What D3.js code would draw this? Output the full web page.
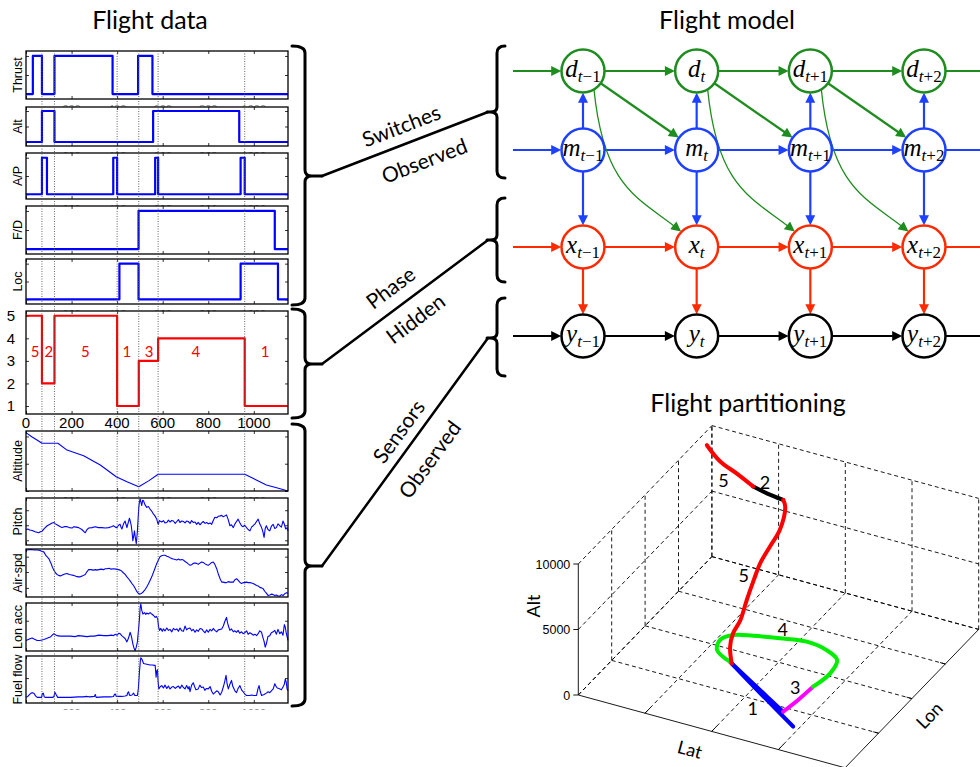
<!DOCTYPE html>
<html>
<head>
<meta charset="utf-8">
<script src="https://cdn.jsdelivr.net/npm/d3@7"></script>
<style>
  html, body { margin: 0; padding: 0; background: #fff; }
  svg { display: block; }
</style>
</head>
<body>
<svg id="fig" width="980" height="767"></svg>
<script>
// ---------------- data ----------------
const timeTicks = [0, 200, 400, 600, 800, 1000];
const modeChanges = [70, 125, 400, 495, 580, 960];

// switch states: [time, level]
const thrustSwitch = [[0,0],[30,1],[70,0],[125,1],[380,0],[492,1],[555,0],[1150,0]];
const altSwitch    = [[0,0],[70,1],[125,0],[558,1],[936,0],[1150,0]];
const apSwitch     = [[0,0],[70,1],[92,0],[383,1],[400,0],[567,1],[580,0],[942,1],[960,0],[1150,0]];
const fdSwitch     = [[0,0],[494,1],[1092,0],[1150,0]];
const locSwitch    = [[0,0],[410,1],[494,0],[942,1],[1106,0],[1150,0]];

// flight phase: [time, phase]
const phaseSeq = [[0,5],[70,2],[125,5],[400,1],[495,3],[580,4],[960,1],[1150,1]];
const phaseLabelT    = [40, 100, 260, 443, 540, 745, 1050];
const phaseLabelText = ["5","2","5","1","3","4","1"];
const phaseTicks = [1, 2, 3, 4, 5];

// sensors
const altitudeFt = [[0,10700],[25,9950],[50,9300],[70,8745],[140,8745],[180,7500],[253,6470],[326,4770],[396,2620],[443,1700],[495,790],[540,1900],[580,3060],[960,3060],[996,2330],[1055,1100],[1100,600],[1150,0]];
const pitch = [[0,33],[8,34],[16,32],[27,31],[40,28],[56,26],[63,28],[70,29],[80,35],[93,41],[105,44],[115,47],[122,48],[129,45],[136,43],[147,40],[158,37],[168,39],[180,39],[190,37],[202,36],[210,39],[220,38],[231,37],[245,33],[260,26],[268,33],[275,36],[290,37],[304,39],[318,37],[333,37],[348,36],[362,37],[375,39],[384,41],[392,38],[399,37],[406,42],[413,44],[417,38],[421,34],[428,45],[435,51],[440,42],[443,37],[449,48],[454,57],[458,50],[462,41],[466,25],[469,9],[473,20],[476,30],[480,15],[484,3],[487,18],[489,30],[492,55],[495,80],[498,92],[501,98],[505,90],[508,84],[512,95],[516,94],[522,86],[530,80],[537,82],[545,76],[552,72],[559,66],[566,62],[574,55],[578,47],[581,44],[585,52],[588,51],[596,49],[603,52],[610,47],[618,48],[625,53],[632,49],[640,52],[647,51],[655,46],[662,50],[669,54],[676,48],[684,51],[691,50],[698,47],[705,51],[712,50],[720,46],[727,52],[734,48],[742,49],[749,44],[756,48],[764,43],[771,47],[778,50],[786,46],[793,48],[800,45],[808,47],[815,44],[822,52],[829,59],[837,58],[844,61],[852,62],[859,63],[866,60],[873,62],[880,64],[887,55],[895,41],[902,43],[910,37],[917,45],[924,50],[931,55],[938,48],[946,41],[953,39],[960,42],[968,37],[975,33],[983,30],[990,38],[997,41],[1005,45],[1012,50],[1019,55],[1026,45],[1034,37],[1040,28],[1045,16],[1050,35],[1055,41],[1062,33],[1070,30],[1077,40],[1085,44],[1092,35],[1099,37],[1106,45],[1114,41],[1121,38],[1128,51],[1134,44],[1140,34],[1146,37],[1150,30]];
const airSpeed = [[0,96],[5,98],[20,99],[35,98],[49,98],[62,97],[70,95],[78,94],[88,86],[100,80],[110,70],[116,62],[122,56],[130,50],[136,47],[143,45],[151,44],[160,46],[170,48],[180,49],[190,47],[200,46],[209,45],[220,43],[230,42],[238,42],[248,44],[260,47],[268,53],[275,57],[285,57],[295,56],[305,57],[311,56],[320,57],[330,58],[340,57],[348,59],[355,59],[365,60],[374,58],[384,59],[395,58],[405,57],[413,56],[420,54],[428,50],[435,47],[443,42],[450,38],[458,33],[465,28],[472,24],[480,17],[487,11],[494,7],[500,6],[508,8],[515,11],[522,15],[530,21],[537,27],[545,35],[552,42],[560,52],[567,61],[574,70],[580,76],[588,84],[595,86],[603,87],[610,87],[618,85],[625,84],[632,82],[640,80],[647,79],[655,78],[662,77],[670,79],[676,77],[684,78],[691,77],[698,74],[705,72],[712,69],[720,66],[727,67],[734,70],[742,71],[749,70],[756,68],[764,71],[771,73],[778,72],[786,69],[793,67],[800,66],[808,69],[815,72],[822,73],[829,68],[837,59],[844,48],[852,38],[859,31],[866,31],[873,30],[880,30],[887,32],[895,31],[902,31],[910,31],[917,36],[924,38],[931,35],[938,31],[946,28],[953,30],[960,30],[968,31],[975,30],[983,30],[990,29],[997,28],[1005,26],[1012,24],[1019,23],[1026,20],[1034,19],[1041,17],[1048,12],[1055,8],[1063,3],[1070,4],[1077,6],[1085,5],[1092,3],[1099,4],[1106,2],[1114,2],[1121,5],[1128,3],[1136,7],[1143,9],[1150,8]];
const lonAcc = [[0,22],[10,24],[20,26],[27,27],[35,25],[49,22],[60,22],[70,23],[78,24],[90,26],[100,28],[107,29],[115,33],[122,36],[129,34],[136,32],[150,31],[170,31],[195,31],[215,30],[230,32],[250,31],[268,30],[285,31],[300,31],[320,33],[341,32],[360,32],[375,33],[384,32],[392,35],[400,33],[408,37],[413,36],[420,32],[428,29],[435,26],[443,19],[450,27],[457,39],[463,30],[469,15],[474,6],[479,1],[484,8],[489,19],[493,40],[498,67],[501,90],[504,98],[508,85],[513,77],[520,80],[526,76],[530,79],[537,77],[545,80],[552,77],[560,74],[567,70],[572,72],[578,67],[582,50],[586,43],[592,47],[598,41],[603,46],[610,42],[618,48],[625,43],[632,45],[640,40],[647,47],[655,44],[662,46],[669,41],[676,48],[684,42],[691,41],[698,52],[705,44],[712,47],[720,48],[727,42],[734,45],[742,39],[749,44],[756,41],[764,47],[771,46],[778,42],[786,38],[793,44],[800,39],[808,45],[815,42],[822,47],[829,43],[837,40],[844,44],[852,45],[859,46],[866,52],[873,62],[880,70],[885,58],[890,50],[895,43],[902,46],[910,40],[917,42],[924,39],[931,43],[938,37],[946,40],[953,36],[960,38],[968,42],[975,35],[983,38],[990,36],[997,33],[1005,35],[1012,32],[1019,36],[1026,42],[1034,39],[1040,28],[1045,20],[1050,8],[1055,15],[1062,30],[1070,32],[1077,38],[1085,40],[1092,43],[1099,35],[1106,45],[1114,36],[1121,40],[1128,33],[1134,55],[1138,50],[1142,38],[1146,30],[1150,22]];
const fuelFlow = [[0,12],[8,14],[15,18],[22,21],[30,22],[36,20],[42,15],[49,12],[60,12],[68,12],[72,20],[76,21],[80,13],[85,12],[100,12],[115,12],[122,13],[127,23],[132,18],[139,12],[160,12],[195,12],[230,13],[250,13],[268,14],[280,13],[300,14],[304,18],[308,12],[340,13],[370,13],[384,14],[388,18],[392,19],[396,14],[402,14],[420,14],[435,15],[443,16],[446,21],[450,24],[454,17],[457,16],[465,17],[472,21],[478,16],[489,16],[493,30],[498,66],[502,90],[504,96],[509,93],[516,84],[525,83],[535,82],[545,81],[555,81],[563,80],[567,80],[570,62],[571,55],[574,68],[577,71],[580,45],[583,30],[590,35],[596,37],[603,32],[610,38],[618,31],[625,36],[632,30],[640,34],[647,35],[655,31],[662,34],[669,36],[676,31],[684,38],[691,33],[698,30],[705,37],[712,30],[716,35],[720,24],[727,38],[734,43],[740,35],[746,28],[756,30],[763,38],[770,33],[778,34],[785,27],[792,31],[800,30],[808,35],[815,25],[822,19],[829,22],[837,26],[844,24],[852,17],[859,23],[866,34],[872,45],[878,59],[883,40],[888,30],[895,40],[902,48],[908,35],[917,26],[924,22],[931,31],[939,37],[946,28],[953,24],[961,19],[968,16],[975,16],[983,16],[990,17],[1000,16],[1012,16],[1018,30],[1023,37],[1028,25],[1034,16],[1045,18],[1055,21],[1063,24],[1070,22],[1077,26],[1085,30],[1092,41],[1097,36],[1103,32],[1110,31],[1114,30],[1121,28],[1128,34],[1134,40],[1138,51],[1142,45],[1146,30],[1150,26]];

// graphical model
const timeSlices = ["t−1", "t", "t+1", "t+2"];
const modelVars  = ["d", "m", "x", "y"];

// flight track (lat / lon in grid units, altitude in ft); phase of the segment ending at each point
const trackLat   = [0.27,0.51,0.75,1.00,1.24,1.51,1.59,1.70,1.67,1.64,1.65,1.66,1.68,1.64,1.67,1.85,2.28,2.74,2.95,3.15,3.20,3.13,2.89,2.56,2.20,1.86,1.61,1.51,1.59,1.88,2.36,2.91];
const trackLon   = [3.31,3.23,3.24,3.24,3.17,3.12,3.02,2.64,2.40,2.17,1.96,1.73,1.50,1.36,1.21,0.90,0.79,0.66,0.69,0.74,1.15,1.50,1.66,1.73,1.64,1.53,1.42,1.23,0.98,0.79,0.73,0.62];
const trackAlt   = [10700,10000,9400,8745,8745,8745,8600,8000,7300,6600,5900,5000,4100,3400,2800,2600,1700,790,1900,3060,3060,3060,3060,3060,3060,3060,3060,3060,3060,3060,1500,0];
const trackPhase = [5,5,5,5,2,2,5,5,5,5,5,5,5,5,5,5,1,1,3,3,4,4,4,4,4,4,4,4,4,4,1,1];
const altTicks3d = [0, 5000, 10000];
const gridSteps3d = [0, 1, 2, 3, 4];

// ---------------- drawing ----------------
const svg = d3.select("#fig");
const SANS = "Lato, 'Open Sans', sans-serif";
const AXF  = "'Liberation Sans', Arial, sans-serif";
const SERIF = "'Liberation Serif', 'DejaVu Serif', serif";
const BLUE = "#0000ff", RED = "#ff0000";

svg.append("rect").attr("width", 980).attr("height", 767).attr("fill", "#fff");

const titles = [["Flight data", 150, 29], ["Flight model", 727, 29], ["Flight partitioning", 748, 412]];
svg.selectAll("text.title").data(titles).join("text")
  .attr("class", "title")
  .attr("x", d => d[1]).attr("y", d => d[2])
  .attr("text-anchor", "middle")
  .attr("font-family", SANS).attr("font-size", 25)
  .text(d => d[0]);

// ---- left column: time-series panels ----
const x = d3.scaleLinear().domain([0, 1150]).range([26, 288]);
const [X0, X1] = x.range();
const stepLine = d3.curveStepAfter;

const panels = [
  { label: "Thrust",   top: 51,  bottom: 99,  domain: [-0.13, 1.13], ticks: [0, 0.5, 1], data: thrustSwitch, curve: stepLine, color: BLUE, w: 2.2 },
  { label: "Alt",      top: 107, bottom: 146, domain: [-0.13, 1.13], ticks: [0, 0.5, 1], data: altSwitch,    curve: stepLine, color: BLUE, w: 2.2 },
  { label: "A/P",      top: 153, bottom: 199, domain: [-0.13, 1.13], ticks: [0, 0.5, 1], data: apSwitch,     curve: stepLine, color: BLUE, w: 2.2 },
  { label: "F/D",      top: 206, bottom: 254, domain: [-0.13, 1.13], ticks: [0, 0.5, 1], data: fdSwitch,     curve: stepLine, color: BLUE, w: 2.2 },
  { label: "Loc",      top: 259, bottom: 304, domain: [-0.13, 1.13], ticks: [0, 0.5, 1], data: locSwitch,    curve: stepLine, color: BLUE, w: 2.2 },
  { label: null,       top: 311, bottom: 414, domain: [0.646, 5.21], ticks: phaseTicks,  data: phaseSeq,     curve: stepLine, color: RED,  w: 2.2, phase: true },
  { label: "Altitude", top: 431, bottom: 491, domain: [0, 11000],    ticks: [0, 5000, 10000], data: altitudeFt, curve: d3.curveLinear, color: BLUE, w: 1.1 },
  { label: "Pitch",    top: 498, bottom: 545, domain: [0, 100],      ticks: [10, 42, 74], data: pitch,    curve: d3.curveLinear, color: BLUE, w: 1.1 },
  { label: "Air-spd",  top: 549, bottom: 597, domain: [0, 100],      ticks: [19, 52, 84], data: airSpeed, curve: d3.curveLinear, color: BLUE, w: 1.1 },
  { label: "Lon acc",  top: 603, bottom: 651, domain: [0, 100],      ticks: [63],         data: lonAcc,   curve: d3.curveLinear, color: BLUE, w: 1.1 },
  { label: "Fuel flow",top: 656, bottom: 703, domain: [0, 100],      ticks: [53],         data: fuelFlow, curve: d3.curveLinear, color: BLUE, w: 1.1, last: true }
];

const defs = svg.append("defs");
defs.append("clipPath").attr("id", "bottomCut").append("rect")
  .attr("x", 0).attr("y", 0).attr("width", 300).attr("height", 710);

panels.forEach(p => {
  const y = d3.scaleLinear().domain(p.domain).range([p.bottom, p.top]);
  const g = svg.append("g");
  g.append("rect").attr("x", X0).attr("y", p.top).attr("width", X1 - X0).attr("height", p.bottom - p.top)
    .attr("fill", "#fff");

  const addAxis = (axis, tx, ty) => g.append("g")
    .attr("transform", `translate(${tx},${ty})`)
    .call(axis)
    .call(s => s.select(".domain").remove())
    .call(s => s.selectAll("line").attr("stroke", "#000").attr("stroke-width", 0.8));
  addAxis(d3.axisBottom(x).tickValues(timeTicks).tickSize(-3).tickFormat(""), 0, p.bottom);
  addAxis(d3.axisTop(x).tickValues(timeTicks).tickSize(-3).tickFormat(""), 0, p.top);
  addAxis(d3.axisLeft(y).tickValues(p.ticks).tickSize(-3).tickFormat(""), X0, 0);
  addAxis(d3.axisRight(y).tickValues(p.ticks).tickSize(-3).tickFormat(""), X1, 0);

  if (p.phase) {
    // full tick labels on the phase panel
    g.selectAll("text.xl").data(timeTicks).join("text").attr("class", "xl")
      .attr("x", d => x(d)).attr("y", p.bottom + 14)
      .attr("text-anchor", "middle").attr("font-family", AXF).attr("font-size", 15).text(d => d);
    g.selectAll("text.yl").data(p.ticks).join("text").attr("class", "yl")
      .attr("x", 15).attr("y", d => y(d)).attr("dy", "0.36em")
      .attr("text-anchor", "end").attr("font-family", AXF).attr("font-size", 15).text(d => d);
    g.selectAll("text.ph").data(phaseLabelT).join("text").attr("class", "ph")
      .attr("x", d => x(d)).attr("y", y(3.4)).attr("dy", "0.36em")
      .attr("text-anchor", "middle").attr("font-family", SANS).attr("font-size", 15)
      .attr("fill", RED).text((d, i) => phaseLabelText[i]);
  } else {
    // tick labels mostly hidden under the following panel
    g.append("g").attr("clip-path", p.last ? "url(#bottomCut)" : null)
      .selectAll("text").data(timeTicks.slice(1)).join("text")
      .attr("x", d => x(d)).attr("y", p.bottom + 14)
      .attr("text-anchor", "middle").attr("font-family", AXF).attr("font-size", 11)
      .attr("fill", "#888").text(d => d);
  }

  g.append("path").datum(p.data)
    .attr("d", d3.line().x(d => x(d[0])).y(d => y(d[1])).curve(p.curve))
    .attr("fill", "none").attr("stroke", p.color).attr("stroke-width", p.w)
    .attr("stroke-linejoin", "round");

  g.append("rect").attr("x", X0).attr("y", p.top).attr("width", X1 - X0).attr("height", p.bottom - p.top)
    .attr("fill", "none").attr("stroke", "#000").attr("stroke-width", 1.3);

  if (p.label) {
    g.append("text")
      .attr("transform", `translate(18,${(p.top + p.bottom) / 2}) rotate(-90)`)
      .attr("text-anchor", "middle").attr("dominant-baseline", "central")
      .attr("font-family", AXF).attr("font-size", p.top > 420 ? 12.5 : 12.5).text(p.label);
  }
});

// mode-change markers across all panels
svg.append("g").selectAll("line").data(modeChanges).join("line")
  .attr("x1", d => x(d)).attr("x2", d => x(d))
  .attr("y1", 51).attr("y2", 703)
  .attr("stroke", "#555").attr("stroke-width", 0.9).attr("stroke-dasharray", "1,1.5");

// ---- braces and connectors ----
const braces = [
  { l: [46, 305, 176], r: [46, 178, 112], words: ["Switches", "Observed"], angle: -21, pos: [[401, 125], [424, 160]] },
  { l: [309, 418, 364], r: [198, 282, 240], words: ["Phase", "Hidden"],    angle: -37, pos: [[390, 287], [415, 318]] },
  { l: [424, 706, 566], r: [298, 376, 338], words: ["Sensors", "Observed"], angle: -54, pos: [[398, 431], [429, 459]] }
];
const bg = svg.append("g").attr("fill", "none").attr("stroke", "#000").attr("stroke-linecap", "round");
braces.forEach(b => {
  const [a0, a1, am] = b.l;
  bg.append("path").attr("stroke-width", 3).attr("d",
    `M292,${a0} Q305,${a0} 305,${a0 + 7} L305,${am - 6} Q305,${am} 312,${am} L322,${am}` +
    ` M312,${am} Q305,${am} 305,${am + 6} L305,${a1 - 7} Q305,${a1} 292,${a1}`);
  const [c0, c1, cm] = b.r;
  bg.append("path").attr("stroke-width", 3).attr("d",
    `M505,${c0} Q497,${c0} 497,${c0 + 7} L497,${cm - 5} Q497,${cm} 490,${cm} L487,${cm}` +
    ` M490,${cm} Q497,${cm} 497,${cm + 5} L497,${c1 - 7} Q497,${c1} 505,${c1}`);
  bg.append("line").attr("x1", 322).attr("y1", am).attr("x2", 488).attr("y2", cm).attr("stroke-width", 2.5);
  b.words.forEach((w, i) => {
    svg.append("text")
      .attr("transform", `translate(${b.pos[i][0]},${b.pos[i][1]}) rotate(${b.angle})`)
      .attr("text-anchor", "middle").attr("dominant-baseline", "central")
      .attr("font-family", SANS).attr("font-size", 21).text(w);
  });
});

// ---- graphical model ----
const gx = d3.scalePoint().domain(timeSlices).range([583, 924]);
const gy = d3.scaleOrdinal().domain(modelVars).range([71, 150, 247, 336]);
const varColor = d3.scaleOrdinal().domain(modelVars).range(["#1e8c1e", "#1e40ff", "#ff2a00", "#000000"]);
const R = 21.5;

modelVars.forEach(v => {
  defs.append("marker").attr("id", "arrow-" + v)
    .attr("viewBox", "0 0 10 10").attr("refX", 7.3).attr("refY", 5)
    .attr("markerWidth", 11).attr("markerHeight", 10)
    .attr("markerUnits", "userSpaceOnUse").attr("orient", "auto")
    .append("path").attr("d", "M0,0L10,5L0,10z").attr("fill", varColor(v));
});

const eg = svg.append("g").attr("fill", "none");
function arrow(x1, y1, x2, y2, v, w, head = true) {
  const dx = x2 - x1, dy = y2 - y1, L = Math.hypot(dx, dy);
  const s = head ? 3 / L : 0;
  eg.append("line").attr("x1", x1).attr("y1", y1)
    .attr("x2", x2 - dx * s).attr("y2", y2 - dy * s)
    .attr("stroke", varColor(v)).attr("stroke-width", w)
    .attr("marker-end", head ? `url(#arrow-${v})` : null);
}

// chains along time
modelVars.forEach(v => {
  const yy = gy(v);
  arrow(513, yy, gx(timeSlices[0]) - R, yy, v, 2.2);
  for (let i = 0; i < timeSlices.length - 1; i++) {
    arrow(gx(timeSlices[i]) + R, yy, gx(timeSlices[i + 1]) - R, yy, v, 2.2);
  }
  arrow(gx(timeSlices[timeSlices.length - 1]) + R, yy, 980, yy, v, 2.2, false);
});

// within-slice dependencies
timeSlices.forEach(s => {
  const cx = gx(s);
  arrow(cx, gy("m") - R, cx, gy("d") + R, "m", 2.2);
  arrow(cx, gy("m") + R, cx, gy("x") - R, "m", 2.2);
  arrow(cx, gy("x") + R, cx, gy("y") - R, "x", 2.2);
});

// d_{t} -> m_{t+1} and d_{t} -> x_{t+1}
for (let i = 0; i < timeSlices.length - 1; i++) {
  const ax = gx(timeSlices[i]), ay = gy("d");
  const bx = gx(timeSlices[i + 1]), by = gy("m");
  const dx = bx - ax, dy = by - ay, L = Math.hypot(dx, dy);
  const ux = dx / L, uy = dy / L;
  arrow(ax + ux * R, ay + uy * R, bx - ux * R, by - uy * R, "d", 2.2);

  const sx = ax + 11, sy = ay + 18.5;
  const tx = gx(timeSlices[i + 1]), ty = gy("x");
  const ex = tx - R * 0.72, ey = ty - R * 0.70;
  const path = d3.path();
  path.moveTo(sx, sy);
  path.bezierCurveTo(sx + 10, sy + 100, ex - 42, ey - 34, ex - 2.2, ey - 2.1);
  eg.append("path").attr("d", path.toString())
    .attr("stroke", varColor("d")).attr("stroke-width", 1.3)
    .attr("marker-end", "url(#arrow-d)");
}

// nodes
const ng = svg.append("g");
modelVars.forEach(v => {
  timeSlices.forEach(s => {
    const cx = gx(s), cy = gy(v);
    ng.append("circle").attr("cx", cx).attr("cy", cy).attr("r", R)
      .attr("fill", "#fff").attr("stroke", varColor(v)).attr("stroke-width", 2.5);
    const t = ng.append("text").attr("x", cx).attr("y", cy + 6)
      .attr("text-anchor", "middle").attr("font-family", SERIF).attr("font-size", 25).attr("fill", "#000");
    t.append("tspan").attr("font-style", "italic").text(v);
    const sub = t.append("tspan").attr("dy", 5).attr("font-size", 17);
    sub.append("tspan").attr("font-style", "italic").text(s.slice(0, 1));
    if (s.length > 1) sub.append("tspan").text(s.slice(1));
  });
});

// ---- 3-D flight partitioning ----
const O3 = [578.3, 695];
const latX = d3.scaleLinear().domain([0, 4]).range([0, 266.8]);
const latY = d3.scaleLinear().domain([0, 4]).range([0, 72.8]);
const lonX = d3.scaleLinear().domain([0, 4]).range([0, 133.6]);
const lonY = d3.scaleLinear().domain([0, 4]).range([0, -138.4]);
const altY = d3.scaleLinear().domain([0, 10000]).range([0, -131]);
const P = (la, lo, al) => [O3[0] + latX(la) + lonX(lo), O3[1] + latY(la) + lonY(lo) + altY(al)];

const g3 = svg.append("g");
const grid = g3.append("g").attr("stroke", "#000").attr("stroke-width", 0.9).attr("fill", "none");
function seg(a, b, dashed) {
  grid.append("line").attr("x1", a[0]).attr("y1", a[1]).attr("x2", b[0]).attr("y2", b[1])
    .attr("stroke-dasharray", dashed ? "4,3" : null);
}
// floor
gridSteps3d.forEach(k => {
  seg(P(k, 0, 0), P(k, 4, 0), k !== 4);
  seg(P(0, k, 0), P(4, k, 0), k !== 0);
});
// left wall (lat = 0)
gridSteps3d.forEach(k => seg(P(0, k, 0), P(0, k, 10000), k !== 0));
altTicks3d.forEach(a => seg(P(0, 0, a), P(0, 4, a), true));
// back wall (lon = 4)
gridSteps3d.forEach(k => seg(P(k, 4, 0), P(k, 4, 10000), true));
altTicks3d.forEach(a => seg(P(0, 4, a), P(4, 4, a), true));

// axis ticks
[1, 2, 3].forEach(k => {
  seg(P(k, 0, 0), P(k, 0.16, 0), false);
  seg(P(4, k, 0), P(3.92, k, 0), false);
});
altTicks3d.forEach(a => {
  const p = P(0, 0, a);
  seg(p, [p[0] - 5, p[1]], false);
});
g3.selectAll("text.alt").data(altTicks3d).join("text").attr("class", "alt")
  .attr("x", d => P(0, 0, d)[0] - 8).attr("y", d => P(0, 0, d)[1]).attr("dy", "0.36em")
  .attr("text-anchor", "end").attr("font-family", AXF).attr("font-size", 12.5).text(d => d);

const axisTitles = [["Alt", 533, 606, -90], ["Lat", 690, 749, 15.3], ["Lon", 929, 715, -46]];
g3.selectAll("text.ax").data(axisTitles).join("text").attr("class", "ax")
  .attr("transform", d => `translate(${d[1]},${d[2]}) rotate(${d[3]})`)
  .attr("text-anchor", "middle").attr("dominant-baseline", "central")
  .attr("font-family", SANS).attr("font-size", 18).text(d => d[0]);

// trajectory, grouped into runs of the same phase
const phaseColor = d3.scaleOrdinal().domain([1, 2, 3, 4, 5]).range(["#0000ff", "#000000", "#ff00ff", "#00ee00", "#ff0000"]);
const track = trackLat.map((la, i) => ({ p: P(la, trackLon[i], trackAlt[i]), phase: trackPhase[i] }));
const runs = [];
for (let i = 1; i < track.length; i++) {
  const ph = track[i].phase;
  const last = runs[runs.length - 1];
  if (last && last.phase === ph) last.pts.push(track[i].p);
  else runs.push({ phase: ph, pts: [track[i - 1].p, track[i].p] });
}
runs.sort((a, b) => a.phase - b.phase);
const trackLine = d3.line().curve(d3.curveCatmullRom.alpha(0.5));
g3.append("g").selectAll("path").data(runs).join("path")
  .attr("d", d => trackLine(d.pts))
  .attr("fill", "none").attr("stroke", d => phaseColor(d.phase))
  .attr("stroke-width", 4).attr("stroke-linecap", "round").attr("stroke-linejoin", "round");

// phase labels next to the track
const trackLabels = [[2, -13, 7, "5"], [4, -2, -11, "2"], [10, -10, -5, "5"], [24, 3, -9, "4"], [18, -3, -13, "3"], [16, -4, 21, "1"]];
g3.selectAll("text.tl").data(trackLabels).join("text").attr("class", "tl")
  .attr("x", d => track[d[0]].p[0] + d[1]).attr("y", d => track[d[0]].p[1] + d[2])
  .attr("text-anchor", "middle").attr("dominant-baseline", "central")
  .attr("font-family", SANS).attr("font-size", 18).text(d => d[3]);
</script>
</body>
</html>
